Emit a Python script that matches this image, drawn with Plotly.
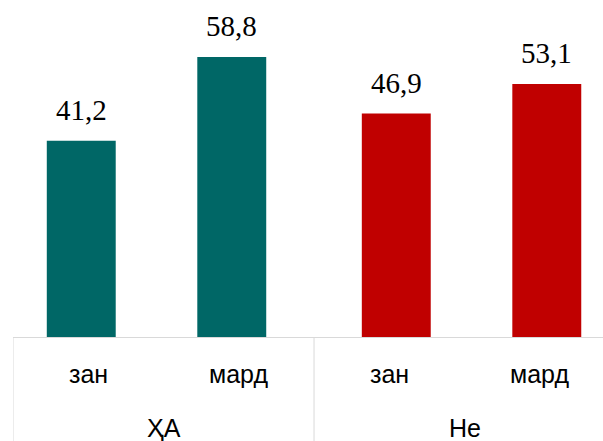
import plotly.graph_objects as go

# ---- data ----
groups = ["ҲА", "Не"]
categories = ["зан", "мард"]
values_ha = [41.2, 58.8]
values_ne = [46.9, 53.1]

# ---- style ----
color_ha = "#006766"
color_ne = "#C00000"
bar_width = 0.458
bar_shift = 0.0465
grid_gray = "#D9D9D9"
sans = "Liberation Sans, Arial, sans-serif"
serif = "Liberation Serif, Times New Roman, serif"

def fmt(v):
    return f"{v:.1f}".replace(".", ",")

fig = go.Figure()
series = [(groups[0], values_ha, color_ha, -bar_shift),
          (groups[1], values_ne, color_ne, bar_shift)]
for g, vals, col, sh in series:
    fig.add_trace(go.Bar(
        x=[[g] * len(categories), categories],
        y=vals,
        marker=dict(color=col, line=dict(width=0)),
        width=bar_width,
        offset=sh - bar_width / 2,
        showlegend=False,
        hoverinfo="skip",
    ))

annotations = []
shapes = []
idx = 0
n_cat = len(categories)
for gi, (g, vals, col, sh) in enumerate(series):
    start = gi * n_cat
    # divider at the left edge of each group
    shapes.append(dict(type="line", xref="x2", yref="paper", ysizemode="pixel", yanchor=0,
                       x0=start - 0.5, x1=start - 0.5, y0=0, y1=-110,
                       line=dict(color=grid_gray, width=1)))
    # group label
    annotations.append(dict(
        x=start + (n_cat - 1) / 2, y=0, xref="x2", yref="paper",
        text=g, showarrow=False, yanchor="middle", xanchor="center", yshift=-91,
        font=dict(family=sans, size=25, color="#000000"),
    ))
    for ci, v in enumerate(vals):
        # category label
        annotations.append(dict(
            x=idx, y=0, xref="x2", yref="paper",
            text=categories[ci], showarrow=False, yanchor="middle", xanchor="center", yshift=-37,
            font=dict(family=sans, size=25, color="#000000"),
        ))
        # value label
        annotations.append(dict(
            x=idx + sh, y=v, xref="x2", yref="y",
            text=fmt(v), showarrow=False, yanchor="bottom", xanchor="center",
            yshift=13,
            font=dict(family=serif, size=29, color="#000000"),
        ))
        idx += 1

x_range = [-0.5, 3.42]
fig.update_layout(
    width=603, height=441,
    margin=dict(l=13, r=0, t=0, b=104),
    plot_bgcolor="white", paper_bgcolor="white",
    barmode="overlay",
    hovermode=False,
    xaxis=dict(
        type="multicategory",
        range=x_range,
        showline=True, linecolor=grid_gray, linewidth=1,
        showgrid=False, zeroline=False,
        showticklabels=False, showdividers=False, ticks="",
    ),
    xaxis2=dict(
        overlaying="x", range=x_range, visible=False, showgrid=False, zeroline=False,
    ),
    yaxis=dict(range=[0, 70.75], visible=False, showgrid=False, zeroline=False),
    annotations=annotations,
    shapes=shapes,
)

fig.write_html("out.html", config={"displayModeBar": False, "staticPlot": True},
               post_script="document.body.style.margin='0px';")
